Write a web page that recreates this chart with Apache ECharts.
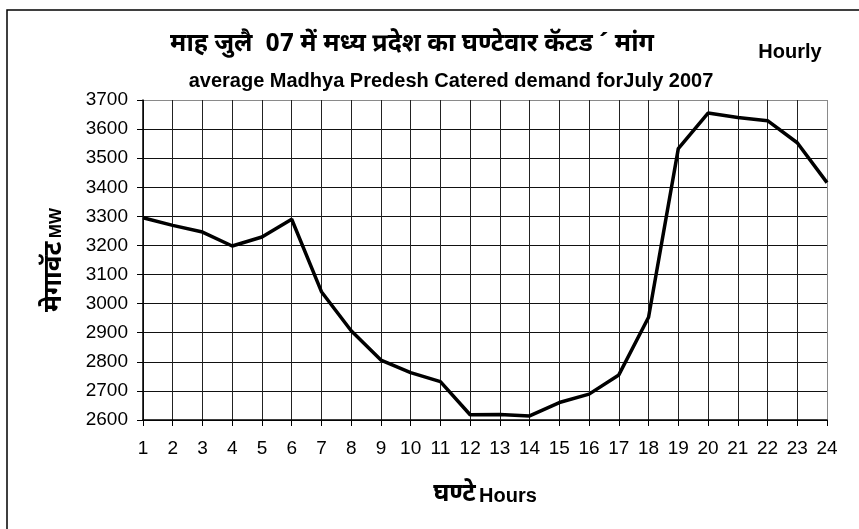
<!DOCTYPE html>
<html>
<head>
<meta charset="utf-8">
<script src="https://cdn.jsdelivr.net/npm/echarts@6/dist/echarts.min.js"></script>
<style>
  html, body { margin: 0; padding: 0; background: #fff; }
  #chart { width: 859px; height: 529px; }
</style>
</head>
<body>
<div id="chart"></div>
<script>
// 小时 (x 轴类别)
const hours = ['1','2','3','4','5','6','7','8','9','10','11','12','13','14','15','16','17','18','19','20','21','22','23','24'];

// 平均负荷 MW
const demand = [3295, 3269, 3246, 3198, 3229, 3290, 3041, 2907, 2806, 2763, 2732, 2618,
                2619, 2614, 2660, 2689, 2755, 2953, 3533, 3655, 3640, 3629, 3553, 3416];

// y 轴范围
const yMin = 2600;
const yMax = 3700;
const yStep = 100;

// 标题文字
const titleHindi = 'माह जुलै  07 में मध्य प्रदेश का घण्टेवार कॅटड ˊ मांग';
const titleEn = 'average Madhya Predesh Catered demand forJuly 2007';
const hourlyText = 'Hourly';

const latin = "'Liberation Sans', Arial, sans-serif";
const deva = "'Noto Sans Devanagari', 'Noto Sans', 'Liberation Sans', sans-serif";

const chart = echarts.init(document.getElementById('chart'));

// 网格线颜色: 最外侧那条为灰色
const ySplitColors = [];
for (let v = yMin; v <= yMax; v += yStep) {
    ySplitColors.push(v === yMax ? '#8a8a8a' : '#111');
}
const xSplitColors = hours.map((h, i) => i === hours.length - 1 ? '#8a8a8a' : '#222');

const option = {
    animation: false,
    backgroundColor: '#fff',
    title: [
        {
            text: titleHindi,
            left: 407,
            top: 29,
            textAlign: 'center',
            textStyle: { fontFamily: deva, fontSize: 25, fontWeight: 'bold', color: '#000' }
        },
        {
            text: titleEn,
            left: 446,
            top: 66,
            textAlign: 'center',
            textStyle: { fontFamily: latin, fontSize: 20, fontWeight: 'bold', color: '#000' }
        },
        {
            text: hourlyText,
            left: 785,
            top: 37,
            textAlign: 'center',
            textStyle: { fontFamily: latin, fontSize: 20, fontWeight: 'bold', color: '#000' }
        }
    ],
    graphic: [
        {
            type: 'rect',
            shape: { x: 7, y: 10, width: 900, height: 600 },
            style: { fill: 'none', stroke: '#000', lineWidth: 1.5 },
            silent: true
        }
    ],
    grid: {
        left: 143,
        right: 32,
        top: 100,
        bottom: 109,
        show: false
    },
    xAxis: {
        type: 'category',
        data: hours,
        boundaryGap: false,
        name: '{a|घण्टे} {b|Hours}',
        nameLocation: 'middle',
        nameGap: 64,
        nameTextStyle: {
            rich: {
                a: { fontFamily: deva, fontSize: 25, fontWeight: 'bold', color: '#000' },
                b: { fontFamily: latin, fontSize: 20, fontWeight: 'bold', color: '#000' }
            }
        },
        axisLine: { show: true, lineStyle: { color: '#000', width: 1.5 } },
        axisTick: { show: true, length: 6, lineStyle: { color: '#000' } },
        axisLabel: { fontFamily: latin, fontSize: 19, color: '#000', margin: 19, interval: 0 },
        splitLine: { show: true, lineStyle: { color: xSplitColors, width: 1 } }
    },
    yAxis: {
        type: 'value',
        min: yMin,
        max: yMax,
        interval: yStep,
        name: '{a|मेगावॅट} {b|MW}',
        nameLocation: 'middle',
        nameGap: 74,
        nameRotate: 90,
        nameTextStyle: {
            rich: {
                a: { fontFamily: deva, fontSize: 26, fontWeight: 'bold', color: '#000' },
                b: { fontFamily: latin, fontSize: 17, fontWeight: 'bold', color: '#000' }
            }
        },
        axisLine: { show: true, lineStyle: { color: '#000', width: 1.5 } },
        axisTick: { show: true, length: 6, lineStyle: { color: '#000' } },
        axisLabel: { fontFamily: latin, fontSize: 19, color: '#000', margin: 15, formatter: v => String(v) },
        splitLine: { show: true, lineStyle: { color: ySplitColors, width: 1 } }
    },
    series: [
        {
            name: 'demand',
            type: 'line',
            data: demand,
            showSymbol: false,
            symbol: 'none',
            lineStyle: { color: '#000', width: 3.5 },
            z: 5
        }
    ]
};

chart.setOption(option);
</script>
</body>
</html>
